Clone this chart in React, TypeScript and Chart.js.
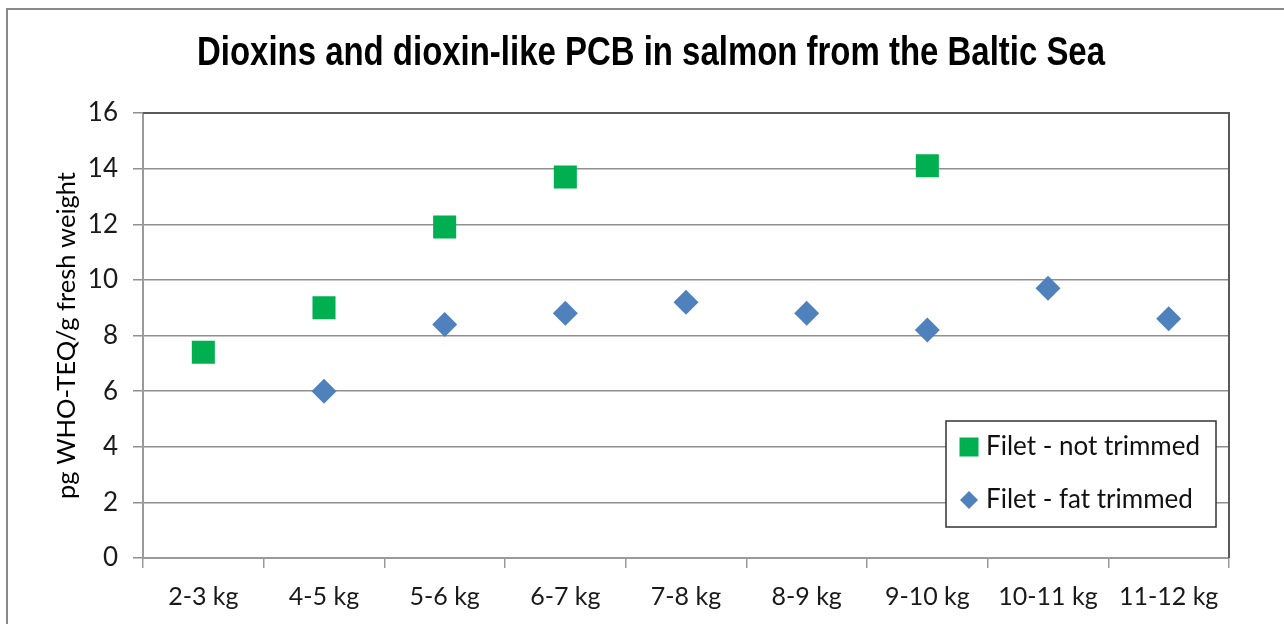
import React, { useEffect, useRef } from "react";
import { Chart, registerables } from "chart.js";

Chart.register(...registerables);

const categories = ["2-3 kg", "4-5 kg", "5-6 kg", "6-7 kg", "7-8 kg", "8-9 kg", "9-10 kg", "10-11 kg", "11-12 kg"];
const notTrimmed: (number | null)[] = [7.4, 9.0, 11.9, 13.7, null, null, 14.1, null, null];
const fatTrimmed: (number | null)[] = [null, 6.0, 8.4, 8.8, 9.2, 8.8, 8.2, 9.7, 8.6];
const seriesLabels = ["Filet - not trimmed", "Filet - fat trimmed"];
const titleText = "Dioxins and dioxin-like PCB in salmon from the Baltic Sea";
const yTitle = "pg WHO-TEQ/g fresh weight";
const yMin = 0;
const yMax = 16;
const yStep = 2;

const GREEN = "#00B050";
const BLUE = "#4F81BD";
const FONT = "Lato, 'Open Sans', sans-serif";
const TITLE_FONT = "bold 41px 'Liberation Sans', Arial, sans-serif";

const titlePlugin = {
  id: "customTitle",
  afterDraw(chart: any) {
    const ctx = chart.ctx;
    ctx.save();
    ctx.font = TITLE_FONT;
    ctx.fillStyle = "#000";
    ctx.textAlign = "center";
    ctx.textBaseline = "middle";
    const targetWidth = 908;
    const w = ctx.measureText(titleText).width;
    const sx = targetWidth / w;
    ctx.translate(651, 54);
    ctx.scale(sx, 1);
    ctx.fillText(titleText, 0, 0);
    ctx.restore();
  },
};

const plotBorderPlugin = {
  id: "plotBorder",
  afterDatasetsDraw(chart: any) {
    const { ctx, chartArea } = chart;
    ctx.save();
    ctx.strokeStyle = "#5a5a5a";
    ctx.lineWidth = 2;
    ctx.beginPath();
    ctx.moveTo(chartArea.left, chartArea.top);
    ctx.lineTo(chartArea.right, chartArea.top);
    ctx.lineTo(chartArea.right, chartArea.bottom);
    ctx.stroke();
    ctx.restore();
  },
};

const legendPlugin = {
  id: "insideLegend",
  afterDraw(chart: any) {
    const { ctx, chartArea } = chart;
    const right = chartArea.right - 13;
    const bottom = chartArea.bottom - 31;
    const w = 270;
    const h = 106;
    const left = right - w;
    const top = bottom - h;
    ctx.save();
    ctx.fillStyle = "#fff";
    ctx.fillRect(left, top, w, h);
    ctx.strokeStyle = "#333";
    ctx.lineWidth = 1.5;
    ctx.strokeRect(left, top, w, h);
    ctx.font = `26px ${FONT}`;
    ctx.textAlign = "left";
    ctx.textBaseline = "middle";
    const y1 = top + 26;
    const y2 = top + 79;
    const mx = left + 23;
    ctx.fillStyle = GREEN;
    ctx.fillRect(mx - 9.5, y1 - 9.5, 19, 19);
    ctx.fillStyle = BLUE;
    ctx.beginPath();
    ctx.moveTo(mx, y2 - 9);
    ctx.lineTo(mx + 9, y2);
    ctx.lineTo(mx, y2 + 9);
    ctx.lineTo(mx - 9, y2);
    ctx.closePath();
    ctx.fill();
    ctx.fillStyle = "#111";
    ctx.fillText(seriesLabels[0], left + 40, y1);
    ctx.fillText(seriesLabels[1], left + 40, y2);
    ctx.restore();
  },
};

export default function App() {
  const ref = useRef<HTMLCanvasElement | null>(null);
  useEffect(() => {
    if (!ref.current) return;
    const chart = new Chart(ref.current, {
      type: "line",
      data: {
        labels: categories,
        datasets: [
          {
            label: seriesLabels[0],
            data: notTrimmed,
            showLine: false,
            pointStyle: "rect",
            pointRadius: 16.3,
            pointHoverRadius: 16.3,
            backgroundColor: GREEN,
            borderColor: GREEN,
            pointBorderWidth: 0,
          },
          {
            label: seriesLabels[1],
            data: fatTrimmed,
            showLine: false,
            pointStyle: "rectRot",
            pointRadius: 12.5,
            pointHoverRadius: 12.5,
            backgroundColor: BLUE,
            borderColor: BLUE,
            pointBorderWidth: 0,
          },
        ],
      },
      options: {
        animation: false,
        responsive: false,
        maintainAspectRatio: false,
        layout: { padding: { left: 0, top: 113, right: 55, bottom: 0 } },
        plugins: {
          legend: { display: false },
          title: { display: false },
          tooltip: { enabled: false },
        },
        scales: {
          x: {
            type: "category",
            offset: true,
            grid: {
              offset: true,
              drawOnChartArea: false,
              drawTicks: true,
              tickLength: 10,
              color: "#9a9a9a",
              lineWidth: 1.5,
            },
            border: { display: true, color: "#9a9a9a", width: 2 },
            ticks: {
              font: { family: FONT, size: 25 },
              color: "#1a1a1a",
              maxRotation: 0,
              autoSkip: false,
              padding: 14,
            },
            afterFit(scale: any) {
              scale.height = 66;
            },
          },
          y: {
            min: yMin,
            max: yMax,
            ticks: {
              stepSize: yStep,
              font: { family: FONT, size: 26 },
              color: "#1a1a1a",
              padding: 15,
            },
            grid: {
              color: "#8f8f8f",
              lineWidth: 1.5,
              tickLength: 10,
            },
            border: { display: true, color: "#9a9a9a", width: 2 },
            title: {
              display: true,
              text: yTitle,
              font: { family: FONT, size: 25.5 },
              color: "#000",
              padding: { top: 51, bottom: 0 },
            },
            afterFit(scale: any) {
              scale.width = 143;
            },
          },
        },
      },
      plugins: [plotBorderPlugin, legendPlugin, titlePlugin],
    });
    return () => chart.destroy();
  }, []);

  return (
    <div style={{ position: "fixed", left: 0, top: 0, width: 1284, height: 624, background: "#fff", overflow: "hidden" }}>
      <div
        style={{
          position: "absolute",
          left: 6,
          top: 8,
          width: 1300,
          height: 700,
          border: "2.5px solid #8a8a8a",
          boxSizing: "border-box",
        }}
      />
      <canvas ref={ref} width={1284} height={624} style={{ position: "absolute", left: 0, top: 0, display: "block" }} />
    </div>
  );
}
